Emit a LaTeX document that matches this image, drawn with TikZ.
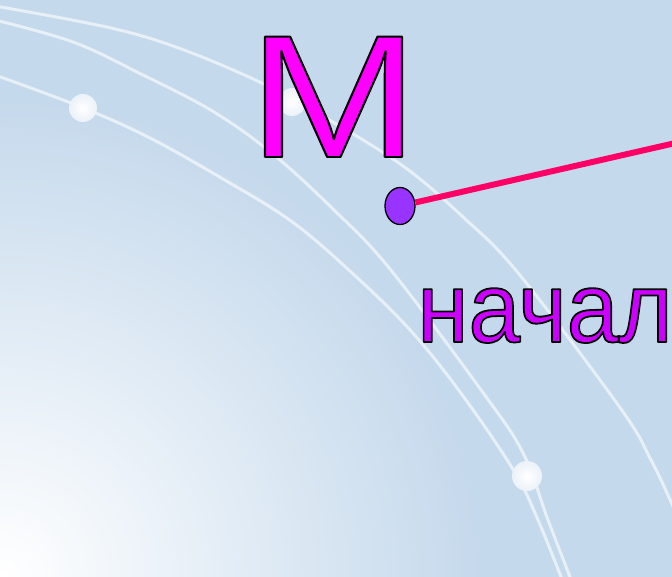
\documentclass[tikz,border=0pt]{standalone}
\usepackage{fontspec}
\setmainfont{Liberation Sans}
\usetikzlibrary{shapes.geometric}
\definecolor{bgblue}{RGB}{197,217,236}
\definecolor{mfill}{RGB}{255,0,255}
\definecolor{tfill}{RGB}{204,0,255}
\definecolor{dotfill}{RGB}{153,51,255}
\definecolor{linepink}{RGB}{255,0,102}
\newcommand{\outlined}[1]{\special{pdf:code 2 Tr 1.8 w 1 j 0 0 0 RG}#1\special{pdf:code 0 Tr}}
\begin{document}
\begin{tikzpicture}[x=1pt,y=-1pt,
  curve/.style={white, line width=3pt, opacity=0.6, line cap=round},
  ball/.style={inner color=white, outer color=white!65!bgblue},
  bigM/.style={font=\fontsize{175}{175}\selectfont, inner sep=0pt, xscale=1.17, text=mfill},
  word/.style={font=\fontsize{100}{100}\selectfont, inner sep=0pt, xscale=0.93, text=tfill},
  pointdot/.style={ellipse, draw=black, line width=1.3pt, fill=dotfill, minimum width=30pt, minimum height=37pt, inner sep=0pt},
  ray/.style={linepink, line width=6pt}]
\useasboundingbox (0,0) rectangle (672,577);
\clip (0,0) rectangle (672,577);
\fill[bgblue] (0,0) rectangle (672,577);
\shade[inner color=white, outer color=bgblue] (0,577) circle (480pt);
% curves
\draw[curve] plot[smooth, tension=0.6] coordinates {(-5,6) (111,28) (184,50) (266,85) (326,118) (403,166) (463,217) (519,274) (621,409) (651,460) (672,504) (690,545)};
\draw[curve] plot[smooth, tension=0.6] coordinates {(-5,20) (73,42) (141,74) (214,112) (274,155) (334,210) (390,269) (484,394) (523,453) (548,520) (572,582)};
\draw[curve] plot[smooth, tension=0.6] coordinates {(-5,75) (81,107) (150,138) (223,179) (291,221) (351,272) (411,331) (463,396) (514,471) (538,520) (563,582)};
% balls
\shade[ball] (83,108) circle (14pt);
\shade[ball] (292,102) circle (14pt);
\shade[ball] (527,476) circle (15pt);
% letter M
\node[bigM, anchor=base] (M) at (333.5,157) {\outlined{М}};
% point and ray
\node[pointdot] (P) at (400,206) {};
\coordinate (E) at (700,137.4);
\draw[ray] (P) -- (E);
% word
\node[word, anchor=base west] (W) at (417,342) {\outlined{начал}};
\end{tikzpicture}
\end{document}
